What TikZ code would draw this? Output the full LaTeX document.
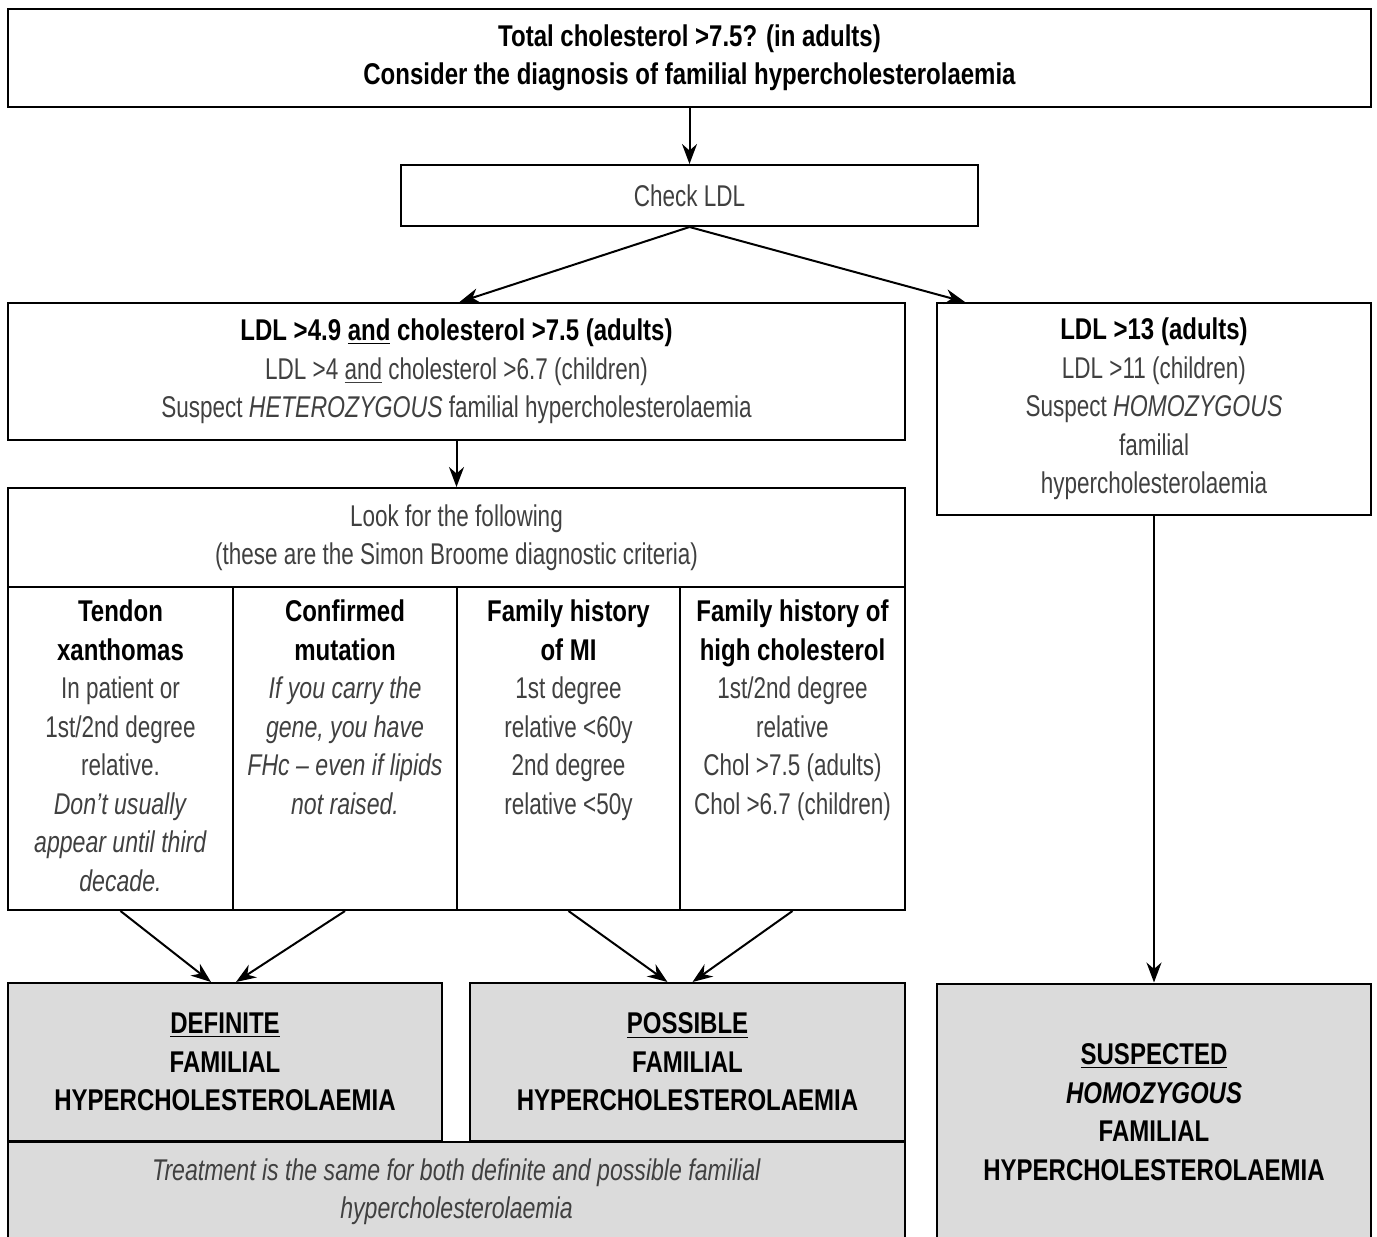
\documentclass[tikz,border=0pt]{standalone}
\usepackage{fontspec}
\setmainfont{Liberation Sans}[FakeStretch=0.75, ItalicFeatures={FakeStretch=0.77},
  BoldFeatures={FakeStretch=0.8}, BoldItalicFeatures={FakeStretch=0.8}]
\usetikzlibrary{arrows.meta, calc}
\newcommand{\hd}[1]{\textbf{\color{black}#1}}

\begin{document}
\begin{tikzpicture}[>={Stealth[length=10pt, width=7.5pt]}, x=0.5pt, y=-0.5pt, line width=1pt,
  font=\fontsize{15}{19.25}\selectfont,
  box/.style={draw, inner sep=0pt, align=center, text=black!75},
  res/.style={box, fill=black!14},
  txt/.style={inner sep=0pt, align=center, text=black!75, anchor=north}]
  \useasboundingbox (0,0) rectangle (1377,1237);

  % top of the chart
  \node[box, minimum width=681.5pt, minimum height=49pt] (total) at (689.5,58)
    {\hd{Total cholesterol >7.5? (in adults)}\\\hd{Consider the diagnosis of familial hypercholesterolaemia}};
  \node[box, minimum width=288.5pt, minimum height=30.5pt] (check) at (689.5,195.5) {Check LDL};

  % heterozygous / homozygous
  \node[box, minimum width=448.5pt, minimum height=68.5pt] (het) at (456.5,371.5)
    {\hd{LDL >4.9 \underline{and} cholesterol >7.5 (adults)}\\
     LDL >4 \underline{and} cholesterol >6.7 (children)\\
     Suspect \textit{HETEROZYGOUS} familial hypercholesterolaemia};
  \node[box, minimum width=217pt, minimum height=106pt] (hom) at (1154,409)
    {\hd{LDL >13 (adults)}\\LDL >11 (children)\\Suspect \textit{HOMOZYGOUS}\\familial\\hypercholesterolaemia};

  % Simon Broome criteria
  \node[box, minimum width=448.5pt, minimum height=49.5pt] (look) at (456.5,537.5)
    {Look for the following\\(these are the Simon Broome diagnostic criteria)};
  \node[box, minimum width=112.5pt, minimum height=161.5pt] (tendon) at (120.5,748.5) {};
  \node[box, minimum width=112pt, minimum height=161.5pt] (mutation) at (345,748.5) {};
  \node[box, minimum width=111.5pt, minimum height=161.5pt] (famMI) at (568.5,748.5) {};
  \node[box, minimum width=112.5pt, minimum height=161.5pt] (famChol) at (792.5,748.5) {};
  \node[txt] (tendonT) at ($(tendon.north)+(0,13)$)
    {\hd{Tendon}\\\hd{xanthomas}\\In patient or\\1st/2nd degree\\relative.\\
     \textit{Don't usually}\\\textit{appear until third}\\\textit{decade.}};
  \node[txt] (mutationT) at ($(mutation.north)+(0,13)$)
    {\hd{Confirmed}\\\hd{mutation}\\\textit{If you carry the}\\\textit{gene, you have}\\
     \textit{FHc – even if lipids}\\\textit{not raised.}};
  \node[txt] (famMIT) at ($(famMI.north)+(0,13)$)
    {\hd{Family history}\\\hd{of MI}\\1st degree\\relative <60y\\2nd degree\\relative <50y};
  \node[txt] (famCholT) at ($(famChol.north)+(0,13)$)
    {\hd{Family history of}\\\hd{high cholesterol}\\1st/2nd degree\\relative\\
     Chol >7.5 (adults)\\Chol >6.7 (children)};

  % outcomes
  \node[res, minimum width=217pt, minimum height=79pt] (definite) at (225,1062)
    {\hd{\underline{DEFINITE}}\\\hd{FAMILIAL}\\\hd{HYPERCHOLESTEROLAEMIA}};
  \node[res, minimum width=217.5pt, minimum height=79pt] (possible) at (687.5,1062)
    {\hd{\underline{POSSIBLE}}\\\hd{FAMILIAL}\\\hd{HYPERCHOLESTEROLAEMIA}};
  \node[res, minimum width=448.5pt, minimum height=49.5pt] (treat) at (456.5,1191.5)
    {\textit{Treatment is the same for both definite and possible familial}\\\textit{hypercholesterolaemia}};
  \node[res, minimum width=217pt, minimum height=128.5pt] (suspected) at (1154,1112)
    {\hd{\underline{SUSPECTED}}\\\hd{\textit{HOMOZYGOUS}}\\\hd{FAMILIAL}\\\hd{HYPERCHOLESTEROLAEMIA}};

  \draw[->] (total) -- (check);
  \draw[->] (check.south) -- ($(het.north)+(3,0)$);
  \draw[->] (check.south) -- ($(hom.north west)+(29,0)$);
  \draw[->] (het) -- (look);
  \draw[->] (tendon.south) -- ($(definite.north)+(-14,0)$);
  \draw[->] (mutation.south) -- ($(definite.north)+(11,0)$);
  \draw[->] (famMI.south) -- ($(possible.north)+(-20,0)$);
  \draw[->] (famChol.south) -- ($(possible.north)+(5,0)$);
  \draw[->] (hom) -- (suspected);
\end{tikzpicture}
\end{document}
